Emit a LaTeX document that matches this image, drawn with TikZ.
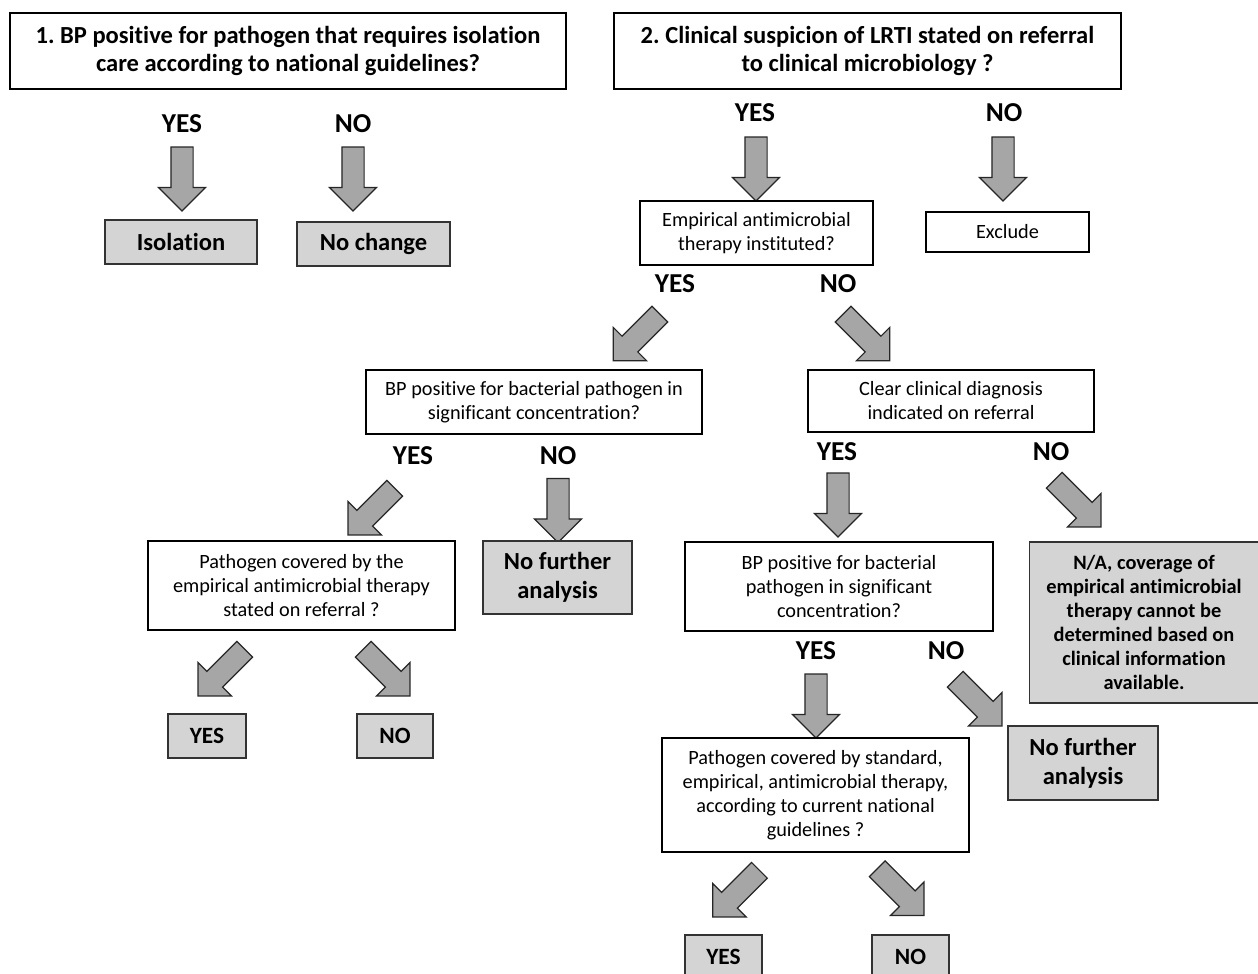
\documentclass[tikz,border=0pt]{standalone}
\usepackage{fontspec}
\setmainfont{Carlito}[Ligatures=NoCommon]
\usetikzlibrary{shapes.arrows}
\newdimen\px \px=0.75pt
\definecolor{boxgray}{RGB}{212,212,212}
\definecolor{arrowgray}{RGB}{166,166,166}
\frenchspacing
\begin{document}
\begin{tikzpicture}[x=0.75pt,y=-0.75pt,
 titlebox/.style={draw=black, line width=1.9pt, fill=white, align=center, font=\fontsize{18.4}{21}\selectfont\bfseries, inner sep=0pt},
 wbox/.style={draw=black, line width=1.1pt, fill=white, align=center, font=\fontsize{15.2}{18}\selectfont, inner sep=0pt},
 gbox/.style={draw=black!80, line width=1pt, fill=boxgray, align=center, font=\fontsize{18.4}{22}\selectfont\bfseries, inner sep=0pt},
 nbox/.style={gbox, font=\fontsize{15.3}{18}\selectfont\bfseries},
 sbox/.style={gbox, font=\fontsize{17.5}{18}\selectfont\bfseries},
 lab/.style={font=\fontsize{20.5}{20}\selectfont\bfseries, inner sep=0pt},
 barrow/.style={single arrow, draw=black!85, line width=0.9pt, fill=arrowgray, inner sep=0pt, inner ysep=10.5\px, minimum width=46\px, single arrow head extend=12.5\px, single arrow tip angle=90, minimum height=#1},
 vdown/.style={barrow=64\px, rotate=-90},
 ddl/.style={barrow=66\px, rotate=-135},
 ddr/.style={barrow=66\px, rotate=-45},
]
\useasboundingbox (0,0) rectangle (1258,974);

% titles
\node[titlebox, minimum width=556\px, minimum height=76\px] (t1) at (288,51) {1. BP positive for pathogen that requires isolation\\care according to national guidelines?};
\node[titlebox, minimum width=507\px, minimum height=76\px] (t2) at (867.5,51) {2. Clinical suspicion of LRTI stated on referral\\to clinical microbiology ?};

% part 1
\node[lab] (l1y) at (182,124) {YES};
\node[lab] (l1n) at (353,124) {NO};
\node[vdown] (a1) at (182,173.5) {};
\node[vdown] (a2) at (353,173.5) {};
\node[gbox, minimum width=152\px, minimum height=44\px] (iso) at (181,242) {Isolation};
\node[gbox, minimum width=153\px, minimum height=44\px] (noch) at (373.5,244) {No change};

% part 2
\node[lab] (l2y) at (755,113) {YES};
\node[lab] (l2n) at (1004,113) {NO};
\node[vdown] (a3) at (756,163.5) {};
\node[vdown] (a4) at (1003,163.5) {};
\node[wbox, minimum width=233\px, minimum height=64\px] (emp) at (756.5,233) {Empirical antimicrobial\\therapy instituted?};
\node[wbox, minimum width=163\px, minimum height=40\px] (excl) at (1007.5,232) {Exclude};

\node[lab] (l3y) at (675,284) {YES};
\node[lab] (l3n) at (838,284) {NO};
\node[ddl] (a5) at (640.5,333.5) {};
\node[ddr] (a6) at (862.5,333.5) {};

\node[wbox, minimum width=336\px, minimum height=64\px] (bp1) at (534,402) {BP positive for bacterial pathogen in\\significant concentration?};
\node[wbox, minimum width=286\px, minimum height=62\px] (clear) at (951,401) {Clear clinical diagnosis\\indicated on referral};

\node[lab] (l4y) at (413,456) {YES};
\node[lab] (l4n) at (558,456) {NO};
\node[ddl] (a7) at (375.3,507.7) {};
\node[vdown] (a8) at (558,505) {};

\node[lab] (l5y) at (837,452) {YES};
\node[lab] (l5n) at (1051,452) {NO};
\node[vdown] (a9) at (838,499.5) {};
\node[ddr] (a10) at (1073.7,499.7) {};

\node[wbox, minimum width=307\px, minimum height=89\px] (pc1) at (301.5,585.5) {Pathogen covered by the\\empirical antimicrobial therapy\\stated on referral ?};
\node[gbox, minimum width=149\px, minimum height=73\px] (nfa1) at (557.5,577.5) {No further\\analysis};
\node[wbox, minimum width=308\px, minimum height=89\px] (bp2) at (839,586.5) {BP positive for bacterial\\pathogen in significant\\concentration?};
\node[nbox, minimum width=229\px, minimum height=161\px] (na) at (1144,622.5) {N/A, coverage of\\empirical antimicrobial\\therapy cannot be\\determined based on\\clinical information\\available.};

\node[ddl] (a11) at (225.3,668.7) {};
\node[ddr] (a12) at (382.7,668.7) {};
\node[sbox, minimum width=78\px, minimum height=44\px] (yes1) at (207,736) {YES};
\node[sbox, minimum width=76\px, minimum height=44\px] (no1) at (395,736) {NO};

\node[lab] (l6y) at (816,651) {YES};
\node[lab] (l6n) at (946,651) {NO};
\node[vdown] (a13) at (816,700.5) {};
\node[ddr] (a14) at (974.7,698.7) {};
\node[gbox, minimum width=150\px, minimum height=74\px] (nfa2) at (1083,763) {No further\\analysis};

\node[wbox, minimum width=307\px, minimum height=114\px] (pc2) at (815.5,795) {Pathogen covered by standard,\\empirical, antimicrobial therapy,\\according to current national\\guidelines ?};
\node[ddl] (a15) at (740,889.7) {};
\node[ddr] (a16) at (896.7,888.2) {};
\node[sbox, minimum width=77\px, minimum height=44\px] (yes2) at (723.5,957) {YES};
\node[sbox, minimum width=77\px, minimum height=44\px] (no2) at (910.5,957) {NO};
\end{tikzpicture}
\end{document}
